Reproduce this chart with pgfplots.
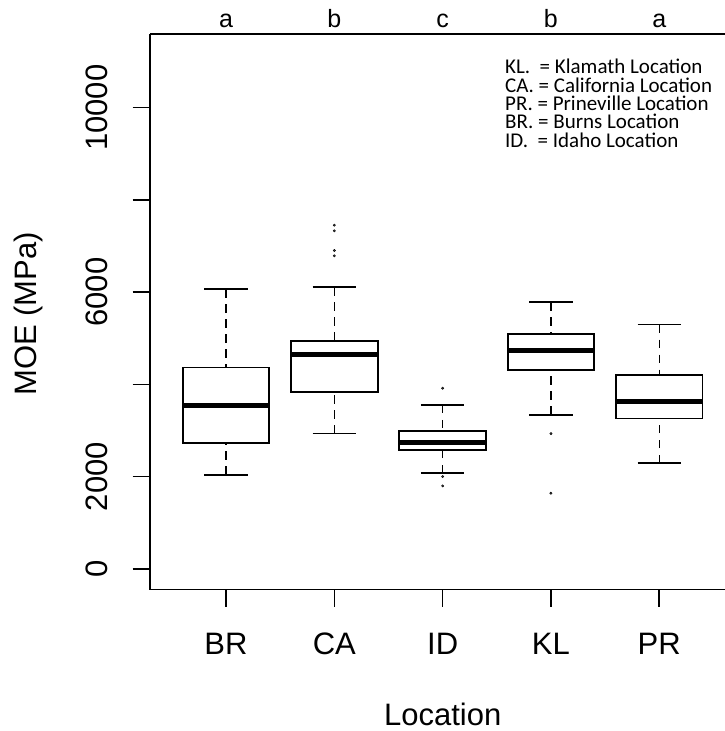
\documentclass[border=0pt]{standalone}
\usepackage{fontspec}
\setmainfont{Liberation Sans}
\newfontfamily\legfont{Carlito}
\usepackage{pgfplots}
\pgfplotsset{compat=1.18}
\pgfplotsset{
  whisk/.style={black, line width=1.5pt, dash pattern=on 8.5pt off 6.5pt, forget plot},
  staple/.style={black, line width=1.8pt, solid, forget plot},
  boxo/.style={black, line width=1.8pt, solid, line join=miter, forget plot},
  med/.style={black, line width=5pt, solid, forget plot},
  outl/.style={only marks, mark=*, mark size=1.2pt, mark options={fill=black!75, draw=none}, forget plot},
}
\begin{document}
\begin{tikzpicture}
\path[use as bounding box] (0,0) rectangle (725pt,731pt);
\begin{axis}[
  at={(150.2pt,141.5pt)}, anchor=south west,
  scale only axis, width=574.8pt, height=555.5pt,
  xmin=0.3, xmax=5.607, ymin=-446, ymax=11596,
  axis x line=box, axis y line=left,
  axis line style={-, line width=1.6pt, black},
  xtick={1,2,3,4,5}, xticklabels={BR,CA,ID,KL,PR},
  ytick={0,2000,4000,6000,8000,10000},
  yticklabels={0,2000,,6000,,10000},
  scaled y ticks=false,
  xtick pos=left, ytick pos=left,
  tick align=outside, major tick length=17.5pt,
  every tick/.style={black, line width=1.6pt},
  tick label style={font=\fontsize{31}{37}\selectfont},
  xticklabel style={anchor=base, yshift=-47.3pt},
  yticklabel style={xshift=-24.7pt, rotate=90, anchor=base},
  xlabel={Location}, ylabel={MOE (MPa)},
  every axis x label/.style={at={(axis description cs:0.5088,0)}, anchor=base, inner sep=0pt, yshift=-136pt, font=\fontsize{31}{37}\selectfont},
  every axis y label/.style={at={(axis description cs:0,0.5)}, xshift=-113.5pt, yshift=-2pt, rotate=90, anchor=base, font=\fontsize{31}{37}\selectfont},
  clip=false,
]
% ---------- BR (x=1): whiskers 2038 / 6065, box 2732-4365, median 3541
\addplot[whisk] coordinates {(1,6065) (1,4365)};
\addplot[whisk] coordinates {(1,2038) (1,2732)};
\addplot[staple] coordinates {(0.8,6065) (1.2,6065)};
\addplot[staple] coordinates {(0.8,2038) (1.2,2038)};
\addplot[boxo] coordinates {(0.6,2732) (1.4,2732) (1.4,4365) (0.6,4365)} -- cycle;
\addplot[med] coordinates {(0.6,3541) (1.4,3541)};
% ---------- CA (x=2): whiskers 2934 / 6108, box 3831-4944, median 4647
\addplot[whisk] coordinates {(2,6108) (2,4944)};
\addplot[whisk] coordinates {(2,2934) (2,3831)};
\addplot[staple] coordinates {(1.8,6108) (2.2,6108)};
\addplot[staple] coordinates {(1.8,2934) (2.2,2934)};
\addplot[boxo] coordinates {(1.6,3831) (2.4,3831) (2.4,4944) (1.6,4944)} -- cycle;
\addplot[med] coordinates {(1.6,4647) (2.4,4647)};
\addplot[outl] coordinates {(2,7452) (2,7329) (2,6902) (2,6787)};
% ---------- ID (x=3): whiskers 2075 / 3556, box 2580-2992, median 2738
\addplot[whisk] coordinates {(3,3556) (3,2992)};
\addplot[whisk] coordinates {(3,2075) (3,2580)};
\addplot[staple] coordinates {(2.8,3556) (3.2,3556)};
\addplot[staple] coordinates {(2.8,2075) (3.2,2075)};
\addplot[boxo] coordinates {(2.6,2580) (3.4,2580) (3.4,2992) (2.6,2992)} -- cycle;
\addplot[med] coordinates {(2.6,2738) (3.4,2738)};
\addplot[outl] coordinates {(3,3918) (3,2001) (3,1800)};
% ---------- KL (x=4): whiskers 3339 / 5783, box 4315-5095, median 4733
\addplot[whisk] coordinates {(4,5783) (4,5095)};
\addplot[whisk] coordinates {(4,3339) (4,4315)};
\addplot[staple] coordinates {(3.8,5783) (4.2,5783)};
\addplot[staple] coordinates {(3.8,3339) (4.2,3339)};
\addplot[boxo] coordinates {(3.6,4315) (4.4,4315) (4.4,5095) (3.6,5095)} -- cycle;
\addplot[med] coordinates {(3.6,4733) (4.4,4733)};
\addplot[outl] coordinates {(4,2934) (4,1641)};
% ---------- PR (x=5): whiskers 2292 / 5297, box 3259-4200, median 3627
\addplot[whisk] coordinates {(5,5297) (5,4200)};
\addplot[whisk] coordinates {(5,2292) (5,3259)};
\addplot[staple] coordinates {(4.8,5297) (5.2,5297)};
\addplot[staple] coordinates {(4.8,2292) (5.2,2292)};
\addplot[boxo] coordinates {(4.6,3259) (5.4,3259) (5.4,4200) (4.6,4200)} -- cycle;
\addplot[med] coordinates {(4.6,3627) (5.4,3627)};
% group letters
\node[anchor=base, font=\fontsize{25}{30}\selectfont, yshift=6.7pt] at (axis cs:1,11596) {a};
\node[anchor=base, font=\fontsize{25}{30}\selectfont, yshift=6.7pt] at (axis cs:2,11596) {b};
\node[anchor=base, font=\fontsize{25}{30}\selectfont, yshift=6.7pt] at (axis cs:3,11596) {c};
\node[anchor=base, font=\fontsize{25}{30}\selectfont, yshift=6.7pt] at (axis cs:4,11596) {b};
\node[anchor=base, font=\fontsize{25}{30}\selectfont, yshift=6.7pt] at (axis cs:5,11596) {a};
\end{axis}
\begin{scope}[every node/.style={anchor=base west, inner sep=0pt, font=\legfont\fontsize{21}{24}\selectfont}]
\node at (505pt,657pt) {KL.\ \ = Klamath Location};
\node at (505pt,638.7pt) {CA. = California Location};
\node at (505pt,620.4pt) {PR. = Prineville Location};
\node at (505pt,602.1pt) {BR. = Burns Location};
\node at (505pt,583.8pt) {ID.\ \ = Idaho Location};
\end{scope}
\end{tikzpicture}
\end{document}
